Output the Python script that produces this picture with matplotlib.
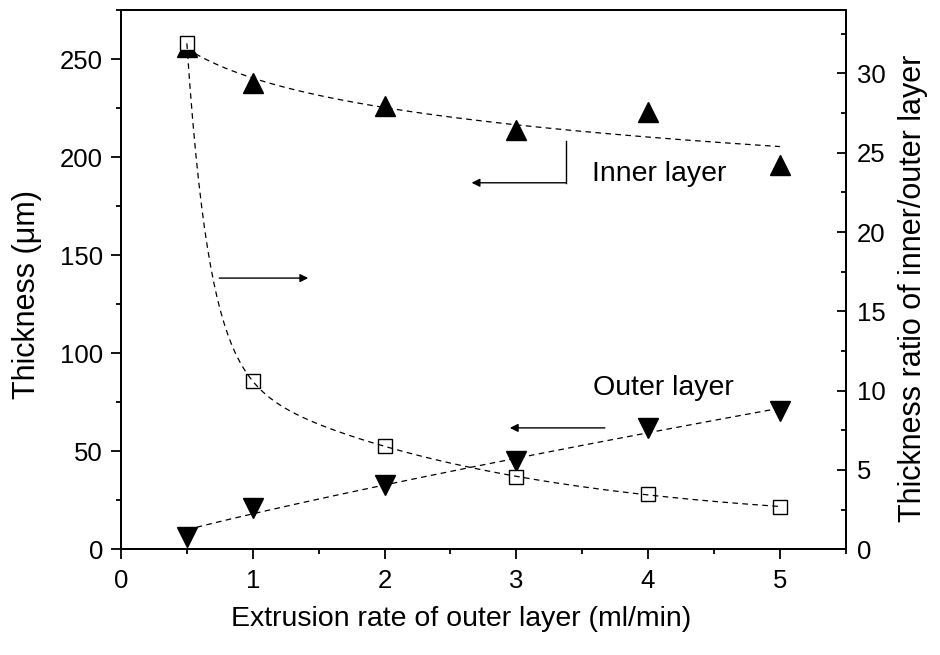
import numpy as np
import matplotlib
matplotlib.use("Agg")
import matplotlib.pyplot as plt
from matplotlib.ticker import MultipleLocator

plt.rcParams['font.family'] = ['Liberation Sans', 'DejaVu Sans']

# ---- data ----
rate = [0.5, 1, 2, 3, 4, 5]                       # ml/min
inner_thick = [256, 238, 226, 214, 223, 196]      # um
outer_thick = [6.4, 20.9, 32.7, 45.1, 62.0, 70.5] # um
ratio = [31.9, 10.6, 6.5, 4.57, 3.47, 2.68]       # inner/outer

x = np.array(rate, float)
yi = np.array(inner_thick, float)
yo = np.array(outer_thick, float)
yr = np.array(ratio, float)
xf = np.linspace(x.min(), x.max(), 400)

# inner: logarithmic least-squares fit
b, a = np.polyfit(np.log(x), yi, 1)
fit_inner = a + b * np.log(xf)

# outer: power law y = a x^p (least squares in linear space)
best = None
for p in np.linspace(0.3, 1.5, 1201):
    xp = x ** p
    aa = np.sum(yo * xp) / np.sum(xp * xp)
    r = np.sum((aa * xp - yo) ** 2)
    if best is None or r < best[0]:
        best = (r, aa, p)
fit_outer = best[1] * xf ** best[2]

# ratio: double exponential decay
best = None
for t1 in np.linspace(0.03, 1.0, 98):
    for t2 in np.linspace(0.5, 20, 196):
        if t2 <= t1:
            continue
        A = np.column_stack([np.ones_like(x), np.exp(-x / t1), np.exp(-x / t2)])
        coef, *_ = np.linalg.lstsq(A, yr, rcond=None)
        if coef[1] < 0 or coef[2] < 0:
            continue
        r = np.sum((A @ coef - yr) ** 2)
        if best is None or r < best[0]:
            best = (r, coef, t1, t2)
_, c, t1, t2 = best
fit_ratio = c[0] + c[1] * np.exp(-xf / t1) + c[2] * np.exp(-xf / t2)

# ---- figure ----
fig = plt.figure(figsize=(9.4, 6.55), dpi=100)
ax = fig.add_axes([0.1287, 0.1614, 0.8997 - 0.1287, 0.9847 - 0.1614])
ax2 = ax.twinx()

dash = dict(color='black', lw=0.9, dashes=(4.5, 3.5))
ax.plot(xf, fit_inner, **dash, zorder=2)
ax.plot(xf, fit_outer, **dash, zorder=2)
ax.plot(x, yi, linestyle='none', marker='^', ms=14, color='black', zorder=3)
ax.plot(x, yo, linestyle='none', marker='v', ms=14, color='black', zorder=3)

ax2.plot(x, yr, linestyle='none', marker='s', ms=10.5, mfc='white', mec='black',
         mew=1.0, zorder=2)
ax2.plot(xf, fit_ratio, **dash, zorder=3)

ax.set_xlim(0, 5.5)
ax.set_ylim(0, 275)
ax2.set_ylim(0, 34)

ax.xaxis.set_major_locator(MultipleLocator(1))
ax.xaxis.set_minor_locator(MultipleLocator(0.5))
ax.yaxis.set_major_locator(MultipleLocator(50))
ax.yaxis.set_minor_locator(MultipleLocator(25))
ax2.yaxis.set_major_locator(MultipleLocator(5))
ax2.yaxis.set_minor_locator(MultipleLocator(2.5))

for a_ in (ax, ax2):
    for s in a_.spines.values():
        s.set_linewidth(1.3)
ax.tick_params(which='major', direction='out', length=7.5, width=1.3, labelsize=18.5)
ax.tick_params(which='minor', direction='out', length=3.8, width=1.3)
ax.tick_params(axis='x', pad=7)
ax.tick_params(axis='y', pad=5.5)
ax2.tick_params(which='major', direction='in', length=6.5, width=1.3, labelsize=18.5, pad=8)
ax2.tick_params(which='minor', direction='in', length=3.5, width=1.3)

ax.set_xlabel('Extrusion rate of outer layer (ml/min)', fontsize=20.5, labelpad=9)
ax.set_ylabel('Thickness (\u03bcm)', fontsize=22, labelpad=13)
ax2.set_ylabel('Thickness ratio of inner/outer layer', fontsize=22, labelpad=9)
ax.xaxis.label.set_x(0.47)
ax.yaxis.label.set_y(0.473)
ax2.yaxis.label.set_y(0.484)

# annotations
ax.plot([3.376, 3.376], [208.0, 186.9], color='black', lw=1.0)
ax.annotate('', xy=(2.661, 186.9), xytext=(3.376, 186.9),
            arrowprops=dict(arrowstyle='-|>', color='black', lw=1.0,
                            mutation_scale=12, shrinkA=0, shrinkB=0))
ax.text(3.571, 191.4, 'Inner layer', fontsize=20.5, va='center', ha='left')

ax.annotate('', xy=(1.421, 138.3), xytext=(0.746, 138.3),
            arrowprops=dict(arrowstyle='-|>', color='black', lw=1.0,
                            mutation_scale=12, shrinkA=0, shrinkB=0))

ax.annotate('', xy=(2.951, 61.9), xytext=(3.672, 61.9),
            arrowprops=dict(arrowstyle='-|>', color='black', lw=1.0,
                            mutation_scale=12, shrinkA=0, shrinkB=0))
ax.text(3.579, 82.0, 'Outer layer', fontsize=20.5, va='center', ha='left')

fig.savefig('out.png', dpi=100)
